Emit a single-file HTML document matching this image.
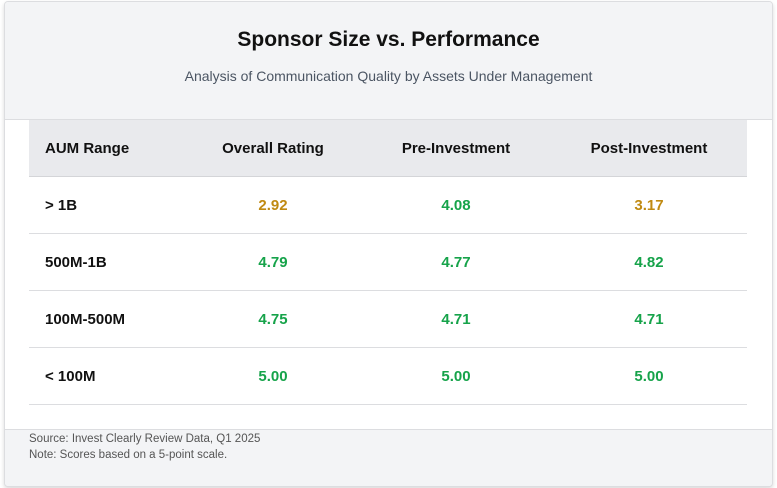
<!DOCTYPE html>
<html><head><style>
body{margin:0;width:777px;height:488px;background:#fff;font-family:"Segoe UI","Liberation Sans",sans-serif;position:relative;overflow:hidden}
.card{position:absolute;left:4px;top:1px;width:767px;height:484px;border:1px solid #dcdde0;border-radius:4px;background:#fff;box-shadow:0 2px 4px rgba(0,0,0,.15);overflow:hidden}
.hdr{position:absolute;left:0;top:0;width:767px;height:117px;background:#f3f4f6;border-bottom:1px solid #dcdde0}
.t{position:absolute;width:100%;text-align:center;top:26px;font-size:21px;font-weight:bold;color:#111}
.s{position:absolute;width:100%;text-align:center;top:66px;font-size:14px;color:#4b5563}
.th{position:absolute;left:24px;top:118px;width:718px;height:56px;background:#e9eaed;border-bottom:1px solid #d4d5d8}
.row{position:absolute;left:24px;width:718px;height:56px;border-bottom:1px solid #dcdde0}
.c{position:absolute;top:1px;line-height:56px;font-size:15px;font-weight:bold;color:#111}
.c0{left:16px}
.c1{left:144px;width:200px;text-align:center}
.c2{left:327px;width:200px;text-align:center}
.c3{left:520px;width:200px;text-align:center}
.g{color:#16a34a}.o{color:#c08a12}
.ft{position:absolute;left:0;top:427px;width:767px;height:57px;background:#f3f4f6;border-top:1px solid #dcdde0;font-size:11.5px;color:#555}
.ft div{position:absolute;left:24px}
</style></head><body>
<div class="card">
<div class="hdr"><div class="t">Sponsor Size vs. Performance</div><div class="s">Analysis of Communication Quality by Assets Under Management</div></div>
<div class="th"><div class="c c0">AUM Range</div><div class="c c1">Overall Rating</div><div class="c c2">Pre-Investment</div><div class="c c3">Post-Investment</div></div>
<div class="row" style="top:175px"><div class="c c0">&gt; 1B</div><div class="c c1 o">2.92</div><div class="c c2 g">4.08</div><div class="c c3 o">3.17</div></div>
<div class="row" style="top:232px"><div class="c c0">500M-1B</div><div class="c c1 g">4.79</div><div class="c c2 g">4.77</div><div class="c c3 g">4.82</div></div>
<div class="row" style="top:289px"><div class="c c0">100M-500M</div><div class="c c1 g">4.75</div><div class="c c2 g">4.71</div><div class="c c3 g">4.71</div></div>
<div class="row" style="top:346px"><div class="c c0">&lt; 100M</div><div class="c c1 g">5.00</div><div class="c c2 g">5.00</div><div class="c c3 g">5.00</div></div>
<div class="ft"><div style="top:3px">Source: Invest Clearly Review Data, Q1 2025</div><div style="top:19px">Note: Scores based on a 5-point scale.</div></div>
</div>
</body></html>
